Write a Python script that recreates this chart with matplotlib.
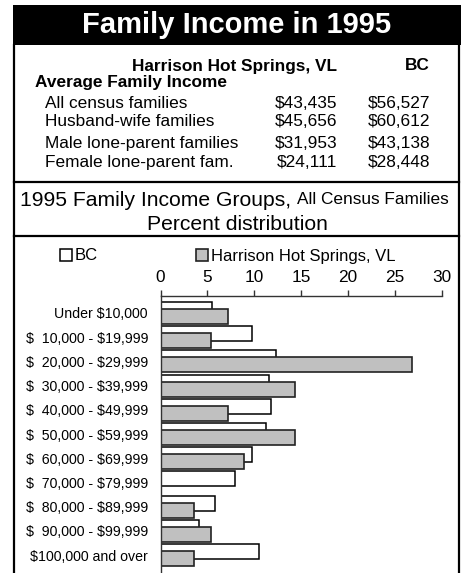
import matplotlib
matplotlib.use('Agg')
import matplotlib.pyplot as plt
import numpy as np
from matplotlib.patches import Rectangle
from matplotlib.lines import Line2D

plt.rcParams['font.family'] = ['Liberation Sans', 'DejaVu Sans']

W, H = 462, 573

# ---- data ----
income_rows = ['All census families', 'Husband-wife families',
               'Male lone-parent families', 'Female lone-parent fam.']
income_hhs  = ['$43,435', '$45,656', '$31,953', '$24,111']
income_bc   = ['$56,527', '$60,612', '$43,138', '$28,448']

groups = ['Under $10,000', '$  10,000 - $19,999', '$  20,000 - $29,999',
          '$  30,000 - $39,999', '$  40,000 - $49,999', '$  50,000 - $59,999',
          '$  60,000 - $69,999', '$  70,000 - $79,999', '$  80,000 - $89,999',
          '$  90,000 - $99,999', '$100,000 and over']
pct_bc  = [5.5, 9.8, 12.35, 11.6, 11.8, 11.25, 9.8, 7.9, 5.8, 4.1, 10.5]
pct_hhs = [7.2, 5.4, 26.85, 14.3, 7.2, 14.3, 8.9, 0.0, 3.6, 5.4, 3.6]
xticks  = [0, 5, 10, 15, 20, 25, 30]


def fx(x):
    return x / W


def fy(y):
    return 1 - y / H


fig = plt.figure(figsize=(W / 100, H / 100), dpi=100)
fig.patch.set_facecolor('white')

# header band
fig.add_artist(Rectangle((fx(13), fy(45)), fx(461) - fx(13), fy(5) - fy(45),
                         transform=fig.transFigure, facecolor='black',
                         edgecolor='none'))
fig.text(fx(237), fy(25), 'Family Income in 1995', color='white',
         fontsize=21, fontweight='bold', ha='center', va='center')

# frame lines
for x in (14, 459):
    fig.add_artist(Line2D([fx(x), fx(x)], [fy(45), fy(H)], color='black',
                          lw=1.6, transform=fig.transFigure))
for y in (182, 236):
    fig.add_artist(Line2D([fx(14), fx(459)], [fy(y), fy(y)], color='black',
                          lw=1.6, transform=fig.transFigure))

# income table
fig.text(fx(337), fy(66), 'Harrison Hot Springs, VL', fontsize=12.4,
         fontweight='bold', ha='right', va='center')
fig.text(fx(430), fy(66), 'BC', fontsize=12.4, fontweight='bold',
         ha='right', va='center')
fig.text(fx(35), fy(83), 'Average Family Income', fontsize=12.4,
         fontweight='bold', ha='left', va='center')
row_y = [103, 121, 143, 163]
for y, lab, a, b in zip(row_y, income_rows, income_hhs, income_bc):
    fig.text(fx(45), fy(y), lab, fontsize=12.4, ha='left', va='center')
    fig.text(fx(337), fy(y), a, fontsize=12.4, ha='right', va='center',
             parse_math=False)
    fig.text(fx(430), fy(y), b, fontsize=12.4, ha='right', va='center',
             parse_math=False)

# section title
t = fig.text(fx(20), fy(200), '1995 Family Income Groups, ', fontsize=15.2,
             ha='left', va='center')
fig.canvas.draw()
bb = t.get_window_extent()
fig.text(bb.x1 / fig.bbox.width, fy(200), 'All Census Families',
         fontsize=12.4, ha='left', va='center')
fig.text(fx(237), fy(224), 'Percent distribution', fontsize=15.2,
         ha='center', va='center')

# bar chart
ax = fig.add_axes([fx(160.5), 0, fx(442) - fx(160.5), fy(296)])
y = np.arange(len(groups))
h = 0.62
off = 0.145
ax.barh(y - off, pct_bc, height=h, color='white', edgecolor='black',
        linewidth=1.1, label='BC')
ax.barh(y + off, pct_hhs, height=h, color='#c0c0c0', edgecolor='#222222',
        linewidth=1.2, label='Harrison Hot Springs, VL')

ax.set_xlim(0, 30)
ax.set_ylim(10.74, -0.70)
ax.set_xticks(xticks)
ax.xaxis.tick_top()
ax.tick_params(axis='x', direction='out', length=4, width=1, pad=4,
               labelsize=12.4, color='#333333')
ax.set_yticks(y)
ax.set_yticklabels(groups, fontsize=10.2, parse_math=False)
ax.tick_params(axis='y', length=0, pad=9)
for s in ('right', 'bottom'):
    ax.spines[s].set_visible(False)
for s in ('top', 'left'):
    ax.spines[s].set_color('#333333')
    ax.spines[s].set_linewidth(1)

ax.legend(loc='center', bbox_to_anchor=(fx(228), fy(256)),
          bbox_transform=fig.transFigure, ncol=2, frameon=False,
          fontsize=12, handlelength=0.7, handleheight=0.7,
          handletextpad=0.2, columnspacing=5.9, borderpad=0)

fig.savefig('out.png', dpi=100, facecolor='white')
